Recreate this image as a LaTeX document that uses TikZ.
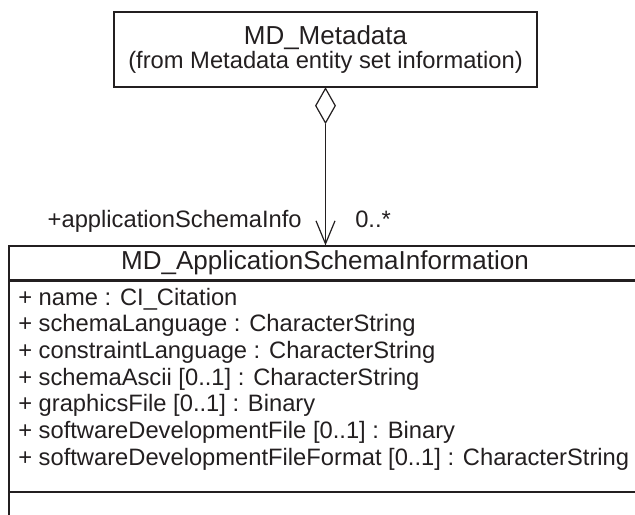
\documentclass[tikz,border=0pt]{standalone}
\usepackage{fontspec}
\setmainfont{Liberation Sans}
\usetikzlibrary{positioning,shapes.geometric,arrows.meta}

\definecolor{umlink}{RGB}{35,31,32}

\tikzset{
    classbox/.style={draw=umlink, line width=0.9pt, rectangle, inner sep=0pt},
    umlline/.style={draw=umlink, line width=0.9pt},
    attrtext/.style={font=\fontsize{17.8}{20}\selectfont, inner sep=0pt, anchor=base west},
}

\begin{document}
\begin{tikzpicture}[x=0.75pt, y=-0.75pt, text=umlink]
    \useasboundingbox (0,0) rectangle (635,514);
    \clip (0,0) rectangle (635,514);

    % parent class
    \node[classbox, minimum width=423*0.75pt, minimum height=75*0.75pt, align=center,
          font=\fontsize{17.8}{16.5}\selectfont] (meta) at (325.5,49.5)
        {{\fontsize{19.5}{16.5}\selectfont MD\_Metadata}\\(from Metadata entity set information)};

    % aggregation
    \node[diamond, draw=umlink, line width=0.9pt, minimum width=20*0.75pt, minimum height=35*0.75pt,
          inner sep=0pt, anchor=north] (agg) at (meta.south) {};

    % child class
    \node[classbox, minimum width=632*0.75pt, minimum height=34*0.75pt,
          font=\fontsize{19.5}{22}\selectfont] (asi) at (325,263) {MD\_ApplicationSchemaInformation};
    \node[classbox, anchor=north west, minimum width=632*0.75pt, minimum height=210*0.75pt] (attrs) at (asi.south west) {};
    \node[classbox, anchor=north west, minimum width=632*0.75pt, minimum height=40*0.75pt] (ops) at (attrs.south west) {};

    \foreach \txt [count=\i] in {+ name : CI\_Citation,
            + schemaLanguage : CharacterString,
            + constraintLanguage : CharacterString,
            + schemaAscii [0..1] : CharacterString,
            + graphicsFile [0..1] : Binary,
            + softwareDevelopmentFile [0..1] : Binary,
            + softwareDevelopmentFileFormat [0..1] : CharacterString}
        \node[attrtext] (attr\i) at (18,278.3+26.7*\i) {\txt};

    \draw[umlline, -{Straight Barb[length=23*0.75pt, width=19*0.75pt]}] (agg.south) -- (agg.south |- asi.north);

    % role and multiplicity
    \node[attrtext, anchor=base east] (role) at (302,227) {+applicationSchemaInfo};
    \node[attrtext] (mult) at (355,227) {0..*};
\end{tikzpicture}
\end{document}
